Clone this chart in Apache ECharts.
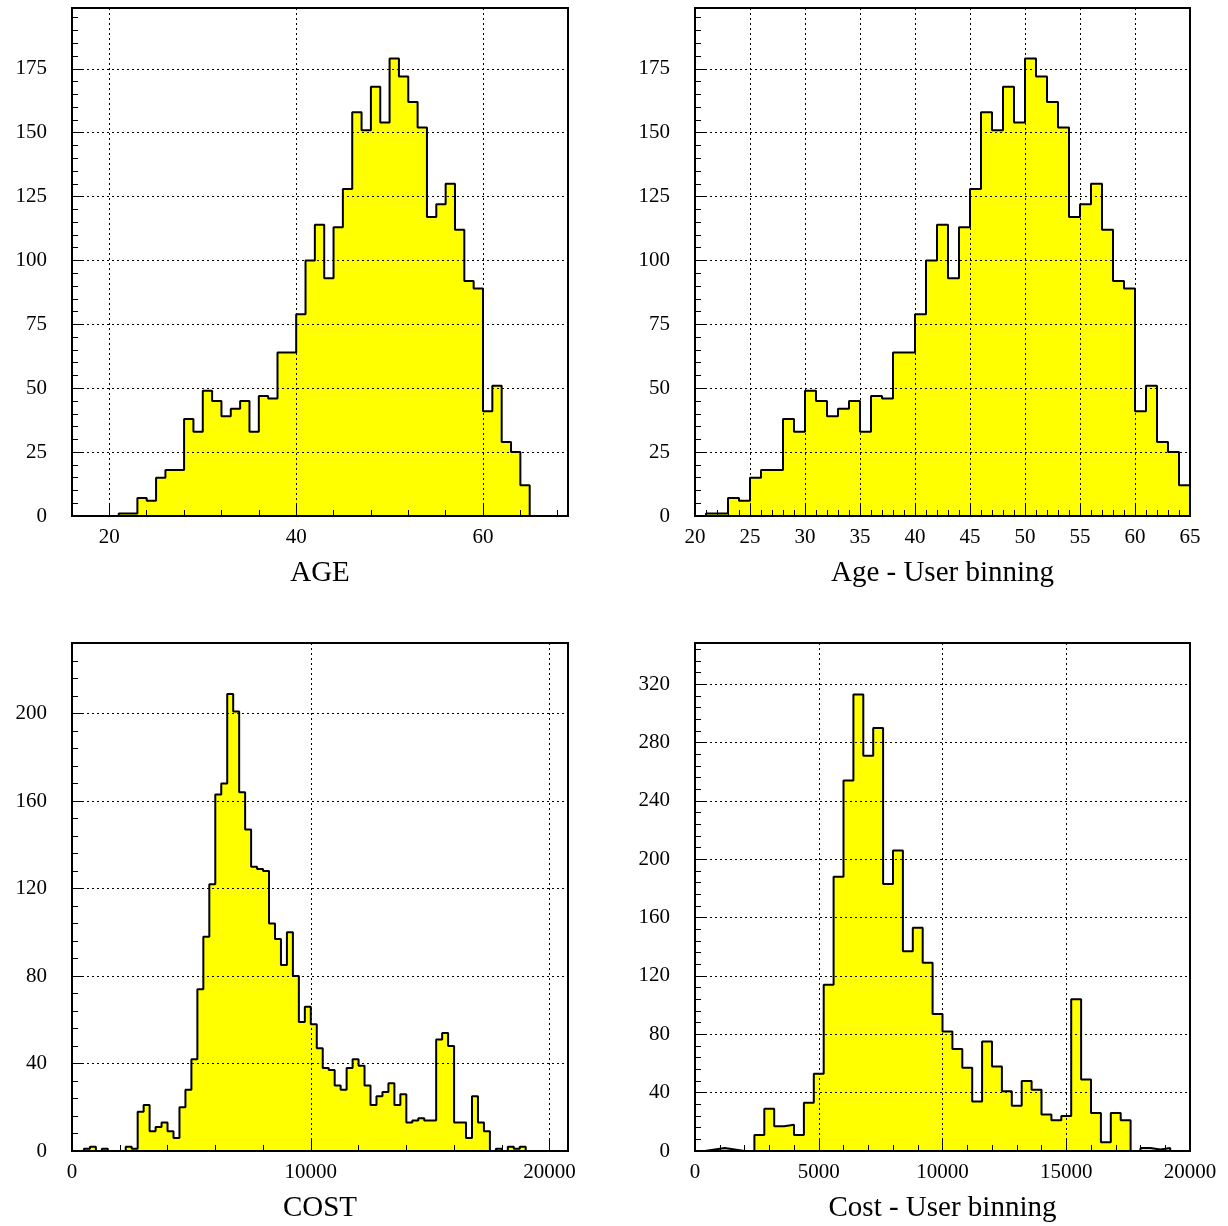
<!DOCTYPE html>
<html>
<head>
<meta charset="utf-8">
<script src="https://cdn.jsdelivr.net/npm/echarts@6/dist/echarts.min.js"></script>
<style>
html,body{margin:0;padding:0;background:#fff;}
#c{width:1228px;height:1226px;}
</style>
</head>
<body>
<div id="c"></div>
<script>
// ---------------- data ----------------
// Panel 1: AGE (bins of width 1 starting at 20)
const AGE_BIN_START = 20;
const AGE_BIN_WIDTH = 1;
const AGE_COUNTS = [0,1,1,7,6,15,18,18,38,33,49,45,39,42,45,33,47,46,64,64,79,100,114,93,113,128,158,151,168,154,179,172,162,152,117,122,130,112,92,89,41,51,29,25,12];
// Panel 2: Age - User binning (bins of width 1 from 20 to 65)
const AGE_USER_BIN_START = 20;
const AGE_USER_BIN_WIDTH = 1;
const AGE_USER_COUNTS = [0,1,1,7,6,15,18,18,38,33,49,45,39,42,45,33,47,46,64,64,79,100,114,93,113,128,158,151,168,154,179,172,162,152,117,122,130,112,92,89,41,51,29,25,12];
// Panel 3: COST (bins of width 250 starting at 0)
const COST_BIN_START = 0;
const COST_BIN_WIDTH = 250;
const COST_COUNTS = [0,0,1,2,0,1,0,0,0,2, 1,18,21,9,11,13,9,6,20,28, 42,74,98,122,163,168,209,201,164,147, 130,129,128,104,97,85,100,80,59,66, 58,47,38,37,30,28,38,42,39,30, 21,25,27,31,21,26,13,14,15,14, 14,51,54,48,13,13,6,25,13,9, 0,1,0,2,1,2,0,0,0,0, 0,0,0];
// Panel 4: Cost - User binning (bins of width 400 from 0 to 20000)
const COST_USER_BIN_START = 0;
const COST_USER_BIN_WIDTH = 400;
const COST_USER_COUNTS = [0,1,2,1,0,0,11,29,17,18, 11,33,53,114,188,254,313,271,290,183, 206,137,153,129,94,82,70,57,34,75, 58,41,31,48,42,25,21,24,104,49, 26,6,26,21,0,2,1,2,0,0];

// tick labels
const AGE_X_TICKS = [20, 40, 60];
const AGE_USER_X_TICKS = [20, 25, 30, 35, 40, 45, 50, 55, 60, 65];
const AGE_Y_TICKS = [0, 25, 50, 75, 100, 125, 150, 175];
const COST_X_TICKS = [0, 10000, 20000];
const COST_Y_TICKS = [0, 40, 80, 120, 160, 200];
const COST_USER_X_TICKS = [0, 5000, 10000, 15000, 20000];
const COST_USER_Y_TICKS = [0, 40, 80, 120, 160, 200, 240, 280, 320];

// axis titles
const TITLES = ['AGE', 'Age - User binning', 'COST', 'Cost - User binning'];

// ---------------- helpers ----------------
function ticksBetween(a, b, step) {
  const out = [];
  for (let v = a; v <= b + 1e-9; v += step) out.push(Math.round(v * 1000) / 1000);
  return out;
}
function stepData(start, width, counts) {
  const d = [[start, 0]];
  counts.forEach((c, i) => d.push([start + i * width, c]));
  const end = start + counts.length * width;
  d.push([end, counts[counts.length - 1]]);
  d.push([end, 0]);
  return d;
}
const plain = v => String(v);

const FONT = "'Liberation Serif','DejaVu Serif','Times New Roman',serif";

const panels = [
  { grid: {left: 72, top: 8, width: 496, height: 508},
    xMin: 16, xMax: 69.1, xMajor: AGE_X_TICKS, xMinor: ticksBetween(16, 68, 4),
    yMax: 198.8, yMajor: AGE_Y_TICKS, yMinor: ticksBetween(0, 195, 5),
    data: stepData(AGE_BIN_START, AGE_BIN_WIDTH, AGE_COUNTS) },
  { grid: {left: 695, top: 8, width: 495, height: 508},
    xMin: 20, xMax: 65, xMajor: AGE_USER_X_TICKS, xMinor: ticksBetween(20, 65, 1),
    yMax: 198.8, yMajor: AGE_Y_TICKS, yMinor: ticksBetween(0, 195, 5),
    data: stepData(AGE_USER_BIN_START, AGE_USER_BIN_WIDTH, AGE_USER_COUNTS) },
  { grid: {left: 72, top: 643, width: 496, height: 508},
    xMin: 0, xMax: 20770, xMajor: COST_X_TICKS, xMinor: ticksBetween(0, 20000, 2000),
    yMax: 232.3, yMajor: COST_Y_TICKS, yMinor: ticksBetween(0, 232, 8),
    data: stepData(COST_BIN_START, COST_BIN_WIDTH, COST_COUNTS) },
  { grid: {left: 695, top: 643, width: 495, height: 508},
    xMin: 0, xMax: 20000, xMajor: COST_USER_X_TICKS, xMinor: ticksBetween(0, 20000, 1000),
    yMax: 348.3, yMajor: COST_USER_Y_TICKS, yMinor: ticksBetween(0, 344, 8),
    data: stepData(COST_USER_BIN_START, COST_USER_BIN_WIDTH, COST_USER_COUNTS) }
];

const grids = [], xAxes = [], yAxes = [], series = [];
const gridLine = { show: true, lineStyle: { color: '#000', width: 1, type: [2, 3] } };

panels.forEach((p, i) => {
  grids.push(Object.assign({ show: true, borderColor: '#000', borderWidth: 2, backgroundColor: 'transparent' }, p.grid));
  xAxes.push({
    gridIndex: i, type: 'value', position: 'bottom', min: p.xMin, max: p.xMax, z: 5,
    axisLine: { show: true, onZero: false, lineStyle: { color: '#000', width: 2 } },
    axisTick: { show: true, inside: true, length: 12, customValues: p.xMajor, lineStyle: { color: '#000', width: 1 } },
    axisLabel: { show: true, customValues: p.xMajor, formatter: plain, margin: 11, color: '#000', fontSize: 21, fontFamily: FONT },
    splitLine: gridLine,
    name: TITLES[i], nameLocation: 'middle', nameGap: 43,
    nameTextStyle: { color: '#000', fontSize: 29, fontFamily: FONT }
  });
  xAxes.push({
    gridIndex: i, type: 'value', position: 'bottom', min: p.xMin, max: p.xMax, z: 5,
    axisLine: { show: false },
    axisTick: { show: true, inside: true, length: 6, customValues: p.xMinor, lineStyle: { color: '#000', width: 1 } },
    axisLabel: { show: false },
    splitLine: { show: false }
  });
  yAxes.push({
    gridIndex: i, type: 'value', position: 'left', min: 0, max: p.yMax, z: 5,
    axisLine: { show: true, onZero: false, lineStyle: { color: '#000', width: 2 } },
    axisTick: { show: true, inside: true, length: 12, customValues: p.yMajor, lineStyle: { color: '#000', width: 1 } },
    axisLabel: { show: true, customValues: p.yMajor, formatter: plain, margin: 25, color: '#000', fontSize: 21, fontFamily: FONT },
    splitLine: gridLine
  });
  yAxes.push({
    gridIndex: i, type: 'value', position: 'left', min: 0, max: p.yMax, z: 5,
    axisLine: { show: false },
    axisTick: { show: true, inside: true, length: 6, customValues: p.yMinor, lineStyle: { color: '#000', width: 1 } },
    axisLabel: { show: false },
    splitLine: { show: false }
  });
  series.push({
    type: 'line', xAxisIndex: 2 * i, yAxisIndex: 2 * i,
    data: p.data, step: 'end', symbol: 'none', showSymbol: false,
    lineStyle: { color: '#000', width: 2 },
    areaStyle: { color: '#ffff00', opacity: 1 },
    clip: true, silent: true, z: 2
  });
});

const chart = echarts.init(document.getElementById('c'), null, { renderer: 'canvas' });
chart.setOption({
  animation: false,
  backgroundColor: '#fff',
  grid: grids,
  xAxis: xAxes,
  yAxis: yAxes,
  series: series
});
</script>
</body>
</html>
